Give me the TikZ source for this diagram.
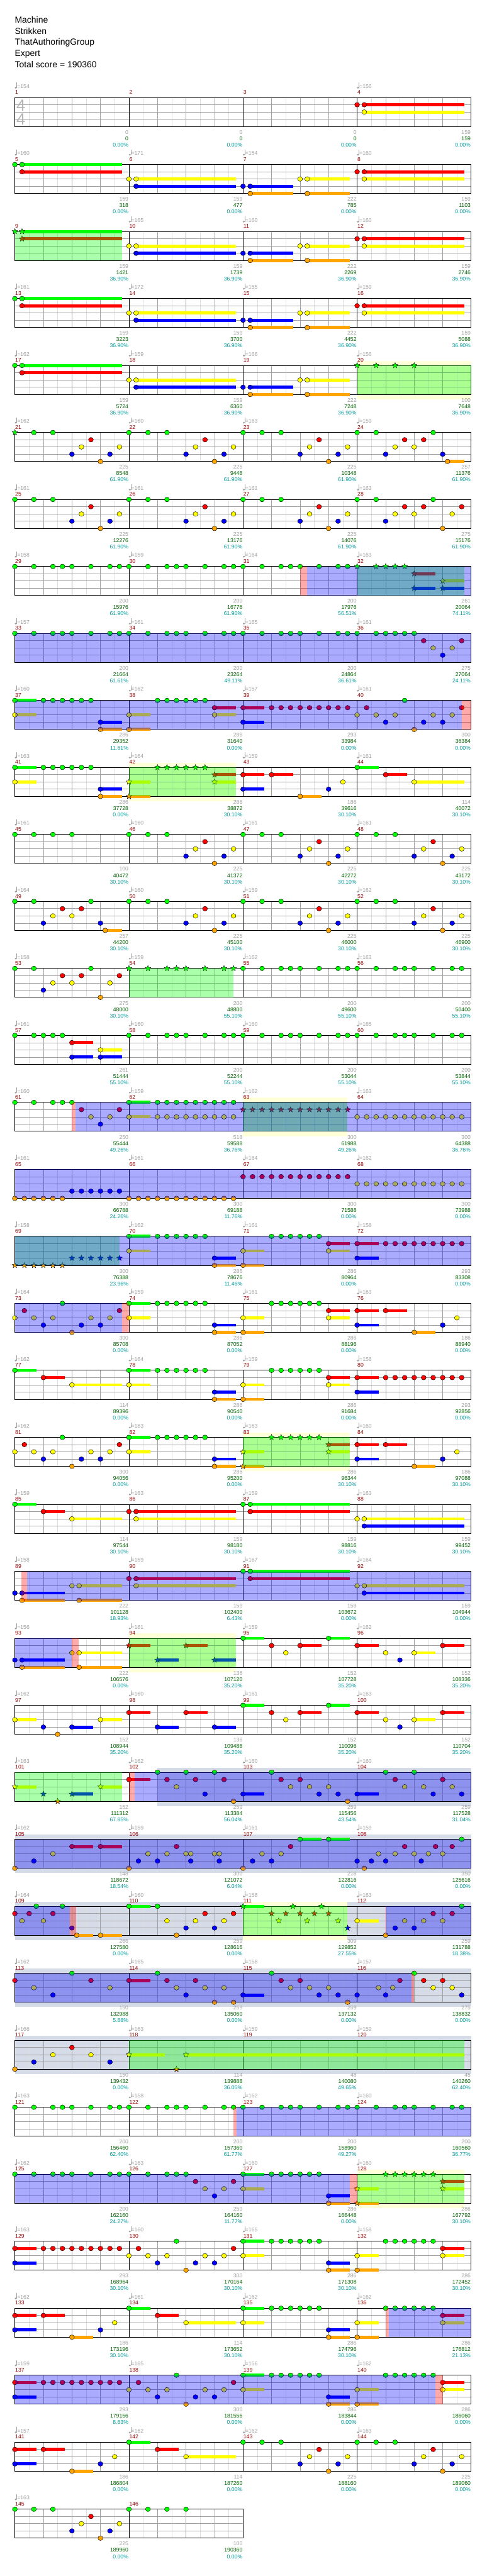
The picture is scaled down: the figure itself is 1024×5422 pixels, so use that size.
\documentclass[tikz,border=0pt]{standalone}
\usepackage{fontspec}
\setmainfont{Liberation Sans}
\usetikzlibrary{shapes.geometric}
\definecolor{lane0}{RGB}{0,255,0}
\definecolor{lane1}{RGB}{255,0,0}
\definecolor{lane2}{RGB}{255,255,0}
\definecolor{lane3}{RGB}{0,0,255}
\definecolor{lane4}{RGB}{255,165,0}
\definecolor{cTempo}{RGB}{160,160,160}
\definecolor{cNum}{RGB}{153,0,0}
\definecolor{cScore}{RGB}{0,100,0}
\definecolor{cPct}{RGB}{0,153,153}
\definecolor{cQuart}{RGB}{160,160,160}
\definecolor{cEighth}{RGB}{222,222,222}
\definecolor{bandY}{RGB}{255,255,216}
\definecolor{bandG}{RGB}{213,220,232}
\definecolor{sigGrey}{RGB}{180,180,180}
\tikzset{
  lbl/.style={inner sep=0pt,font=\fontsize{11.5}{12}\selectfont},
  starnote/.style={star,star points=5,star point ratio=2.3,minimum size=12.5pt,inner sep=0pt,draw=black,line width=0.5pt},
  hdr/.style={anchor=base west,inner sep=0pt,font=\fontsize{18.5}{20}\selectfont},
  sig/.style={anchor=base,inner sep=0pt,text=sigGrey,font=\fontsize{34}{34}\selectfont}
}
\def\nonetempo{x}
\newcommand\Nt[2]{\edef\lanec{lane#2}\filldraw[fill=\lanec,draw=black,line width=0.6pt] ({31.3+10*(#1)},{15.25*(#2)}) ellipse [x radius=5.2pt,y radius=4.9pt];}
\newcommand\St[2]{\edef\lanec{lane#2}\node[starnote,fill=\lanec] at ({31.3+10*(#1)},{15.25*(#2)}) {};}
\newcommand\Sus[3]{\edef\lanec{lane#3}\fill[fill=\lanec] ({31.3+10*(#1)},{15.25*(#3)-3.2}) rectangle ({31.3+10*(#2)},{15.25*(#3)+3.2});}
\newcommand\Ns[1]{\edef\tmpl{#1}\foreach \vp/\vl in \tmpl {\Nt{\vp}{\vl}}}
\newcommand\Ss[1]{\edef\tmpl{#1}\foreach \vp/\vl in \tmpl {\St{\vp}{\vl}}}
\newcommand\Bs[1]{\edef\tmpl{#1}\foreach \va/\vb/\vl in \tmpl {\Sus{\va}{\vb}{\vl}}}
\newcommand\RunN[3]{\pgfmathtruncatemacro\rn{((#2)-(#1))/2}\foreach \ri in {0,...,\rn}{\pgfmathsetmacro\rq{#1+2*\ri}\Nt{\rq}{#3}}}
\newcommand\RunS[3]{\pgfmathtruncatemacro\rn{((#2)-(#1))/2}\foreach \ri in {0,...,\rn}{\pgfmathsetmacro\rq{#1+2*\ri}\St{\rq}{#3}}}
\newcommand\TP[1]{\Ns{#1/0,#1+4/0,#1+8/0,#1+12/3,#1+14/2,#1+16/1,#1+18/4,#1+20/3,#1+22/2}}
\newcommand\GF[1]{\Ns{#1/0,#1+4/0,#1+8/0,#1+10/0,#1+12/0,#1+16/0,#1+20/0,#1+22/0}}
\newcommand\GFS[1]{\Ss{#1/0,#1+4/0,#1+8/0,#1+10/0,#1+12/0,#1+16/0,#1+20/0,#1+22/0}}
\newcommand\OvG[2]{\fill[green,opacity=0.333] ({31.3+10*(#1)},0) rectangle ({31.3+10*(#2)},61);}
\newcommand\OvB[2]{\fill[blue,opacity=0.333] ({31.3+10*(#1)},0) rectangle ({31.3+10*(#2)},61);}
\newcommand\OvR[2]{\fill[red,opacity=0.333] ({31.3+10*(#1)},0) rectangle ({31.3+10*(#2)},61);}
\newcommand\BandY[2]{\fill[bandY] ({31.3+10*(#1)},-10) rectangle ({31.3+10*(#2)},71);}
\newcommand\BandG[2]{\fill[bandG] ({31.3+10*(#1)},-10) rectangle ({31.3+10*(#2)},71);}
\newcommand\Staff[1]{%
  \pgfmathsetmacro\xe{31.3+240*#1}%
  \pgfmathtruncatemacro\nlines{8*#1-1}%
  \foreach \i in {1,...,\nlines}{%
    \pgfmathtruncatemacro\mo{mod(\i,2)}%
    \ifnum\mo=1 \draw[cEighth,line width=0.8pt] ({31.3+30*\i},0) -- ({31.3+30*\i},61);\fi}%
  \foreach \i in {1,...,\nlines}{%
    \pgfmathtruncatemacro\mo{mod(\i,2)}\pgfmathtruncatemacro\me{mod(\i,8)}%
    \ifnum\mo=0 \ifnum\me>0 \draw[cQuart,line width=0.8pt] ({31.3+30*\i},0) -- ({31.3+30*\i},61);\fi\fi}%
  \foreach \yy in {15.25,30.5,45.75}{\draw[cQuart,line width=0.9pt] (31.3,\yy) -- (\xe,\yy);}%
  \pgfmathtruncatemacro\nm{#1-1}%
  \foreach \i in {1,...,\nm}{\draw[black,line width=0.9pt] ({31.3+240*\i},0) -- ({31.3+240*\i},61);}%
  \draw[black,line width=1.2pt] (31.3,0) rectangle (\xe,61);}
\newcommand\Txt[1]{%
  \foreach \vt/\vg/\vs/\vc [count=\vj from 0] in {#1}{%
    \pgfmathsetmacro\xs{31.3+240*\vj}%
    \pgfmathtruncatemacro\mn{4*(\rk-1)+\vj+1}%
    \ifx\vt\nonetempo\else
      \fill[cTempo] (\xs+1.8,-20.6) ellipse [x radius=2.3pt,y radius=1.9pt];
      \draw[cTempo,line width=0.7pt] (\xs+3.8,-20.6) -- (\xs+3.8,-31.5);
      \node[lbl,anchor=base west,text=cTempo] at (\xs+4.6,-19.6) {=\vt};
    \fi
    \node[lbl,anchor=base west,text=cNum] at (\xs+0.6,-7) {\mn};
    \node[lbl,anchor=base east,text=cTempo] at (\xs+239,77) {\vg};
    \node[lbl,anchor=base east,text=cScore] at (\xs+239,90.3) {\vs};
    \node[lbl,anchor=base east,text=cPct] at (\xs+239,103.6) {\vc\%};
  }}
\newenvironment{crow}[1]{\begin{scope}[shift={(0,{205.3+141*(#1-1)})}]\def\rk{#1}}{\end{scope}}
\def\pAB{1.5/22.5/0,1.5/22.5/1,25.5/46.5/2,25.5/46.5/3,49.5/58.5/3,49.5/58.5/4,61.5/70.5/2,61.5/70.5/4}
\def\pAN{0/0,1.5/0,1.5/1,24/2,25.5/2,25.5/3,48/3,49.5/3,49.5/4,60/2,61.5/2,61.5/4}
\def\pMidB{24/28.5/0,24/28.5/2,42/46.5/3,42/46.5/4,48/52.5/2,48/52.5/4,66/70.5/1,66/70.5/2,72/76.5/1,72/76.5/3}
\def\pMidN{24/0,24/2,30/0,32/0,34/0,36/0,38/0,40/0,42/3,42/4,48/2,48/4,54/0,56/0,58/0,60/0,62/0,64/0,66/1,66/2,72/1,72/3}
\def\pRB{0/4.5/1,0/4.5/3,48/52.5/0,48/52.5/2,66/70.5/3,66/70.5/4,72/76.5/2,72/76.5/4,90/94.5/1,90/94.5/2}
\def\pRN{0/1,0/3,6/1,8/1,10/1,12/1,14/1,16/1,18/1,20/1,22/1,24/2,26/1,28/2,30/3,32/2,34/0,36/4,38/3,40/2,42/3,44/2,46/1,48/0,48/2,54/0,56/0,58/0,60/0,62/0,64/0,66/3,66/4,72/2,72/4,78/0,80/0,82/0,84/0,86/0,88/0,90/1,90/2}
\begin{document}
\begin{tikzpicture}[x=1pt,y=-1pt]
\useasboundingbox (0,0) rectangle (1024,5422);
\fill[white] (0,0) rectangle (1024,5422);
\node[hdr] (title) at (31,48.3) {Machine};
\node[hdr] (artist) at (31,71.7) {Strikken};
\node[hdr] (charter) at (31,95) {ThatAuthoringGroup};
\node[hdr] (diff) at (31,118.3) {Expert};
\node[hdr] (score) at (31,141.7) {Total score = 190360};
% row 1
\begin{crow}{1}
\Staff{4}
\node[sig] (sigtop) at (44,27.7) {4};
\node[sig] (sigbot) at (44,57.7) {4};
\Bs{73.5/94.5/1,73.5/94.5/2}
\Ns{72/1,73.5/1,73.5/2}
\Txt{154/0/0/0.00,x/0/0/0.00,x/0/0/0.00,156/159/159/0.00}
\end{crow}
\begin{crow}{2}
\Staff{4}
\Bs{\pAB,73.5/94.5/1,73.5/94.5/2}
\Ns{\pAN,72/1,73.5/1,73.5/2}
\Txt{160/159/318/0.00,171/159/477/0.00,154/222/785/0.00,160/159/1103/0.00}
\end{crow}
\begin{crow}{3}
\Staff{4}
\Bs{\pAB,73.5/94.5/1,73.5/94.5/2}
\Ss{0/0,1.5/0,1.5/1}
\Ns{24/2,25.5/2,25.5/3,48/3,49.5/3,49.5/4,60/2,61.5/2,61.5/4,72/1,73.5/1,73.5/2}
\OvG{0}{22.5}
\Txt{x/159/1421/36.90,165/159/1739/36.90,160/222/2269/36.90,160/159/2746/36.90}
\end{crow}
\begin{crow}{4}
\Staff{4}
\Bs{\pAB,73.5/94.5/1,73.5/94.5/2}
\Ns{\pAN,72/1,73.5/1,73.5/2}
\Txt{161/159/3223/36.90,172/159/3700/36.90,155/222/4452/36.90,159/159/5088/36.90}
\end{crow}
\begin{crow}{5}
\BandY{72}{96}
\Staff{4}
\Bs{\pAB}
\Ns{\pAN}
\Ss{72/0,76/0,80/0,84/0}
\OvG{72}{96}
\Txt{162/159/5724/36.90,159/159/6360/36.90,166/222/7248/36.90,156/100/7648/36.90}
\end{crow}
\begin{crow}{6}
\Staff{4}
\Bs{91/94.5/4}
\Ss{0/0}
\Ns{4/0,8/0,12/3,14/2,16/1,18/4,20/3,22/2}
\TP{24}\TP{48}
\Ns{72/0,76/0,78/3,80/2,82/1,84/2,86/1,88/0,90/3,91/4}
\Txt{162/225/8548/61.90,160/225/9448/61.90,163/225/10348/61.90,159/257/11376/61.90}
\end{crow}
\begin{crow}{7}
\Staff{4}
\TP{0}\TP{24}\TP{48}
\Ns{72/0,76/0,78/3,80/2,82/1,84/2,86/1,88/0,90/4,92/2,94/1}
\Txt{161/225/12276/61.90,161/225/13176/61.90,161/225/14076/61.90,163/275/15176/61.90}
\end{crow}
\begin{crow}{8}
\Staff{4}
\Bs{84/88.5/1,84/88.5/3,90/94.5/2,90/94.5/3}
\GF{0}\GF{24}\GF{48}
\Ss{72/0,76/0,78/0,80/0,82/0,84/1,84/3,90/2,90/3}
\OvG{72}{94.5}\OvB{61.5}{96}\OvR{60}{61.5}
\Txt{158/200/15976/61.90,159/200/16776/61.90,164/200/17976/56.51,163/261/20064/74.11}
\end{crow}
\begin{crow}{9}
\Staff{4}
\GF{0}\GF{24}\GF{48}
\Ns{72/0,76/0,78/0,80/0,82/0,84/0,86/1,88/2,90/3,92/2,94/1}
\OvB{0}{96}
\Txt{157/200/21664/61.61,161/200/23264/49.11,165/200/24864/36.61,161/275/27064/24.11}
\end{crow}
\begin{crow}{10}
\Staff{4}
\Bs{0/4.5/0,0/4.5/2,18/22.5/3,18/22.5/4,24/28.5/2,24/28.5/4,42/46.5/1,42/46.5/2,48/52.5/1,48/52.5/3}
\Ns{0/0,0/2,6/0,8/0,10/0,12/0,14/0,16/0,18/3,18/4,24/2,24/4,30/0,32/0,34/0,36/0,38/0,40/0,42/1,42/2,48/1,48/3}
\RunN{54}{70}{1}
\Ns{72/2,74/1,76/2,78/3,80/2,82/0,84/4,86/3,88/2,90/3,92/2,94/1}
\OvB{0}{94}\OvR{94}{96}
\Txt{160/286/29352/11.61,162/286/31640/0.00,157/293/33984/0.00,161/300/36384/0.00}
\end{crow}
\begin{crow}{11}
\BandY{24}{46.5}
\Staff{4}
\Bs{0/4.5/0,0/4.5/2,18/22.5/3,18/22.5/4,24/28.5/2,24/28.5/4,42/46.5/1,42/46.5/2,48/52.5/1,48/52.5/3,54/58.5/1,60/64.5/4,72/76.5/0,78/82.5/1,84/94.5/2}
\Ns{0/0,0/2,6/0,8/0,10/0,12/0,14/0,16/0,18/3,18/4,48/1,48/3,54/1,60/4,66/3,69/2,72/0,78/1,84/2}
\Ss{24/2,24/4,30/0,32/0,34/0,36/0,38/0,40/0,42/1,42/2}
\OvG{24}{46.5}
\Txt{163/286/37728/0.00,164/286/38872/30.10,159/186/39616/30.10,161/114/40072/30.10}
\end{crow}
\begin{crow}{12}
\Staff{4}
\Ns{0/0,4/0,8/0,12/0}
\TP{24}\TP{48}\TP{72}
\Txt{161/100/40472/30.10,160/225/41372/30.10,161/225/42272/30.10,161/225/43172/30.10}
\end{crow}
\begin{crow}{13}
\Staff{4}
\Bs{19/22.5/4}
\Ns{0/0,4/0,6/3,8/2,10/1,12/2,14/1,16/0,18/3,19/4}
\TP{24}\TP{48}\TP{72}
\Txt{164/257/44200/30.10,160/225/45100/30.10,159/225/46000/30.10,162/225/46900/30.10}
\end{crow}
\begin{crow}{14}
\Staff{4}
\Ns{0/0,4/0,6/3,8/2,10/1,12/2,14/1,16/0,18/4,20/2,22/1}
\GFS{24}\GF{48}\GF{72}
\OvG{24}{46}
\Txt{158/275/48000/30.10,159/200/48800/55.10,162/200/49600/55.10,163/200/50400/55.10}
\end{crow}
\begin{crow}{15}
\Staff{4}
\Bs{12/16.5/1,12/16.5/3,18/22.5/2,18/22.5/3}
\Ns{0/0,4/0,6/0,8/0,10/0,12/1,12/3,18/2,18/3}
\GF{24}\GF{48}\GF{72}
\Txt{161/261/51444/55.10,160/200/52244/55.10,160/200/53044/55.10,165/200/53844/55.10}
\end{crow}
\begin{crow}{16}
\BandY{48}{70}
\Staff{4}
\Bs{24/28.5/0,24/28.5/2}
\Ns{0/0,4/0,8/0,10/0,12/0,14/1,16/2,18/3,20/2,22/1,24/0,24/2}
\RunN{30}{46}{0}\RunN{30}{46}{2}
\RunS{48}{70}{1}
\RunN{72}{94}{2}
\OvG{48}{70}\OvB{12.7}{96}\OvR{12}{12.7}
\Txt{160/250/55444/49.26,159/518/59588/36.76,162/300/61988/49.26,163/300/64388/36.76}
\end{crow}
\begin{crow}{17}
\Staff{4}
\RunN{0}{10}{4}\RunN{12}{22}{3}\RunN{24}{46}{4}\RunN{48}{70}{1}\RunN{72}{94}{2}
\OvB{0}{96}
\Txt{161/300/66788/24.26,161/300/69188/11.76,164/300/71588/0.00,162/300/73988/0.00}
\end{crow}
\begin{crow}{18}
\Staff{4}
\Bs{\pMidB}
\RunS{0}{10}{4}\RunS{12}{22}{3}
\Ns{\pMidN}
\RunN{78}{94}{1}
\OvG{0}{22}\OvB{0}{96}
\Txt{158/300/76388/23.96,162/286/78676/11.46,161/286/80964/0.00,158/293/83308/0.00}
\end{crow}
\begin{crow}{19}
\Staff{4}
\Bs{\pMidB,78/82.5/1,84/88.5/4}
\Ns{0/2,2/1,4/2,6/3,8/2,10/0,12/4,14/3,16/2,18/3,20/2,22/1,\pMidN,78/1,84/4,90/3,93/2}
\OvB{0}{22.5}\OvR{22.5}{24}
\Txt{164/300/85708/0.00,159/286/87052/0.00,161/286/88196/0.00,163/186/88940/0.00}
\end{crow}
\begin{crow}{20}
\Staff{4}
\Bs{0/4.5/0,6/10.5/1,12/22.5/2,\pMidB}
\Ns{0/0,6/1,12/2,\pMidN}
\RunN{78}{94}{1}
\Txt{162/114/89396/0.00,164/286/90540/0.00,159/286/91684/0.00,158/293/92856/0.00}
\end{crow}
\begin{crow}{21}
\BandY{48}{70.5}
\Staff{4}
\Bs{\pMidB,78/82.5/1,84/88.5/4}
\Ns{0/2,2/1,4/2,6/3,8/2,10/0,12/4,14/3,16/2,18/3,20/2,22/1,24/0,24/2,30/0,32/0,34/0,36/0,38/0,40/0,42/3,42/4,72/1,72/3,78/1,84/4,90/3,93/2}
\Ss{48/2,48/4,54/0,56/0,58/0,60/0,62/0,64/0,66/1,66/2}
\OvG{48}{70.5}
\Txt{162/300/94056/0.00,163/286/95200/0.00,163/286/96344/30.10,160/186/97088/30.10}
\end{crow}
\begin{crow}{22}
\Staff{4}
\Bs{0/4.5/0,6/10.5/1,12/22.5/2,25.5/46.5/1,25.5/46.5/2,49.5/70.5/0,49.5/70.5/1,73.5/94.5/2,73.5/94.5/3}
\Ns{0/0,6/1,12/2,24/1,25.5/1,25.5/2,48/0,49.5/0,49.5/1,72/2,73.5/2,73.5/3}
\Txt{159/114/97544/30.10,163/159/98180/30.10,159/159/98816/30.10,163/159/99452/30.10}
\end{crow}
\begin{crow}{23}
\Staff{4}
\Bs{1.5/10.5/3,1.5/10.5/4,13.5/22.5/2,13.5/22.5/4,25.5/46.5/1,25.5/46.5/2,49.5/70.5/0,49.5/70.5/1,73.5/94.5/2,73.5/94.5/3}
\Ns{0/3,1.5/3,1.5/4,12/2,13.5/2,13.5/4,24/1,25.5/1,25.5/2,48/0,49.5/0,49.5/1,72/2,73.5/2,73.5/3}
\OvR{1.4}{2.5}\OvB{2.5}{96}
\Txt{158/222/101128/18.93,159/159/102400/6.43,167/159/103672/0.00,164/159/104944/0.00}
\end{crow}
\begin{crow}{24}
\BandY{24}{46.5}
\Staff{4}
\Bs{1.5/10.5/3,1.5/10.5/4,13.5/22.5/2,13.5/22.5/4,24/28.5/1,30/34.5/3,36/40.5/1,42/46.5/3,48/52.5/0,60/64.5/1,66/70.5/0,72/76.5/1,84/88.5/2,90/94.5/1}
\Ns{0/3,1.5/3,1.5/4,12/2,13.5/2,13.5/4,48/0,54/1,57/2,60/1,66/0,72/1,78/2,81/3,84/2,90/1}
\Ss{24/1,30/3,36/1,42/3}
\OvG{24}{46.5}\OvB{0}{12}\OvR{12}{13.4}
\Txt{156/222/106576/0.00,161/136/107120/35.20,159/152/107728/35.20,162/152/108336/35.20}
\end{crow}
\begin{crow}{25}
\Staff{4}
\Bs{0/4.5/2,12/16.5/3,18/22.5/2,24/28.5/1,30/34.5/3,36/40.5/1,42/46.5/3,48/52.5/0,60/64.5/1,66/70.5/0,72/76.5/1,84/88.5/2,90/94.5/1}
\Ns{0/2,6/3,9/4,12/3,18/2,24/1,30/3,36/1,42/3,48/0,54/1,57/2,60/1,66/0,72/1,78/2,81/3,84/2,90/1}
\Txt{162/152/108944/35.20,160/136/109488/35.20,161/152/110096/35.20,163/152/110704/35.20}
\end{crow}
\begin{crow}{26}
\BandG{30}{96}
\Staff{4}
\Bs{0/4.5/2,12/16.5/3,18/22.5/2,24/28.5/1,48/52.5/3,72/76.5/3}
\Ss{0/2,6/3,9/4,12/3,18/2}
\Ns{24/1,30/0,32/1,34/2,36/0,38/1,40/3,42/0,44/1,46/4,48/3,54/0,56/1,58/2,60/1,62/2,64/3,66/2,68/3,70/4,72/3,78/0,80/1,82/2,84/0,86/2,88/3,90/1,92/2,94/3}
\OvG{0}{22.5}\OvR{24}{25.2}\OvB{25.2}{96}
\Txt{163/152/111312/67.85,162/259/113384/56.04,160/259/115456/43.54,160/259/117528/31.04}
\end{crow}
\begin{crow}{27}
\BandG{0}{96}
\Staff{4}
\Bs{12/16.5/1,18/22.5/1,60/64.5/0,66/70.5/0}
\Ns{0/4,4/3,8/2,12/1,18/1,24/4,26/3,28/2,30/3,32/2,34/1,36/2,37/2,37/3,42/2,43/2,43/3,48/4,50/3,52/2,54/3,56/2,58/1,60/0,66/0,72/3,73.5/4,75/3,76.5/2,78/3,80/2,82/1,84/2,85.5/3,87/2,88.5/1,90/2,92/1,94/0}
\OvB{0}{96}
\Txt{162/148/118672/18.54,159/300/121072/6.04,161/218/122816/0.00,159/350/125616/0.00}
\end{crow}
\begin{crow}{28}
\BandG{0}{96}\BandY{48}{70}
\Staff{4}
\Bs{13/16.5/4,18/22.5/4,24/28.5/0,48/52.5/0,72/76.5/2}
\Ns{0/1,1.5/2,3/1,4.5/0,6/2,8/1,10/0,12/3,13/4,18/4,24/0,30/0,32/2,34/4,36/3,38/2,40/1,42/3,44/2,46/1,72/2,78/4,80/3,82/2,84/3,86/2,88/1,90/2,92/1,94/0}
\Ss{48/0,54/1,55.5/2,57/1,58.5/0,60/1,61.5/2,63/1,64.5/0,66/1,68/2,70/3}
\OvG{48}{70}\OvB{0}{11.6}\OvR{11.6}{12.9}\OvB{78}{96}\OvR{78}{78.2}
\Txt{164/266/127580/0.00,160/259/128616/0.00,158/309/129852/27.55,163/259/131788/18.38}
\end{crow}
\begin{crow}{29}
\BandG{0}{96}
\Staff{4}
\Bs{24/28.5/1,48/52.5/3}
\Ns{0/1,4/2,8/3,12/0,16/1,20/2,24/1,30/0,32/1,34/2,36/3,38/1,40/2,42/4,44/2,46/4,48/3,54/0,56/1,58/2,60/1,62/2,64/3,66/2,68/3,70/4,72/3,76.5/2,78/3,79.5/2,81/1,84/0,86/1,88/2,90/1,92/2,94/3}
\OvB{0}{83.4}\OvR{83.4}{84}
\Txt{162/150/132988/5.88,165/259/135060/0.00,158/259/137132/0.00,157/275/138832/0.00}
\end{crow}
\begin{crow}{30}
\BandG{0}{96}
\Staff{4}
\Bs{24/31.5/2,36/94.5/2}
\Ns{0/4,4/3,8/2,12/1,16/2,20/3}
\Ss{24/2,34/4,36/2}
\OvG{24}{94.5}
\Txt{166/150/139432/0.00,163/114/139888/36.05,159/48/140080/49.65,159/45/140260/62.40}
\end{crow}
\begin{crow}{31}
\Staff{4}
\GF{0}\GF{24}\GF{48}\GF{72}
\OvR{46}{46.7}\OvB{46.7}{96}
\Txt{163/200/156460/62.40,158/200/157360/61.77,162/200/158960/49.27,160/200/160560/36.77}
\end{crow}
\begin{crow}{32}
\BandY{72}{94.5}
\Staff{4}
\Bs{48/52.5/0,48/52.5/2,66/70.5/3,66/70.5/4,72/76.5/2,72/76.5/4,90/94.5/1,90/94.5/2}
\GF{0}
\Ns{24/0,28/0,32/0,34/0,36/0,38/1,40/2,42/3,44/2,46/1,48/0,48/2}
\RunN{54}{64}{0}
\Ns{66/3,66/4}
\Ss{72/2,72/4}
\RunS{78}{88}{0}
\Ss{90/1,90/2}
\OvG{72}{94.5}\OvB{0}{70.5}\OvR{70.5}{72}
\Txt{162/200/162160/24.27,163/250/164160/11.77,160/286/166448/0.00,160/286/167792/30.10}
\end{crow}
\begin{crow}{33}
\Staff{4}
\Bs{\pRB}
\Ns{\pRN}
\Txt{163/293/168964/30.10,160/300/170164/30.10,165/286/171308/30.10,158/286/172452/30.10}
\end{crow}
\begin{crow}{34}
\Staff{4}
\Bs{0/4.5/1,0/4.5/3,6/10.5/1,12/16.5/4,24/28.5/0,30/34.5/1,36/46.5/2,48/52.5/0,48/52.5/2,66/70.5/3,66/70.5/4,72/76.5/2,72/76.5/4,90/94.5/1,90/94.5/2}
\Ns{0/1,0/3,6/1,12/4,18/3,21/2,24/0,30/1,36/2,48/0,48/2,54/0,56/0,58/0,60/0,62/0,64/0,66/3,66/4,72/2,72/4,78/0,80/0,82/0,84/0,86/0,88/0,90/1,90/2}
\OvR{78}{78.7}\OvB{78.7}{96}
\Txt{162/186/173196/30.10,161/114/173652/30.10,162/286/174796/30.10,162/286/176812/21.13}
\end{crow}
\begin{crow}{35}
\Staff{4}
\Bs{\pRB}
\Ns{\pRN}
\OvB{0}{88.5}\OvR{88.5}{90}
\Txt{159/293/179156/8.63,165/300/181556/0.00,156/286/183844/0.00,162/286/186060/0.00}
\end{crow}
\begin{crow}{36}
\Staff{4}
\Bs{0/4.5/1,0/4.5/3,6/10.5/1,12/16.5/4,24/28.5/0,30/34.5/1,36/46.5/2}
\Ns{0/1,0/3,6/1,12/4,18/3,21/2,24/0,30/1,36/2}
\TP{48}\TP{72}
\Txt{157/186/186804/0.00,162/114/187260/0.00,162/225/188160/0.00,163/225/189060/0.00}
\end{crow}
\begin{crow}{37}
\Staff{2}
\TP{0}
\Ns{24/0,28/0,32/0,36/0}
\Txt{163/225/189960/0.00,x/100/190360/0.00}
\end{crow}
\end{tikzpicture}
\end{document}
